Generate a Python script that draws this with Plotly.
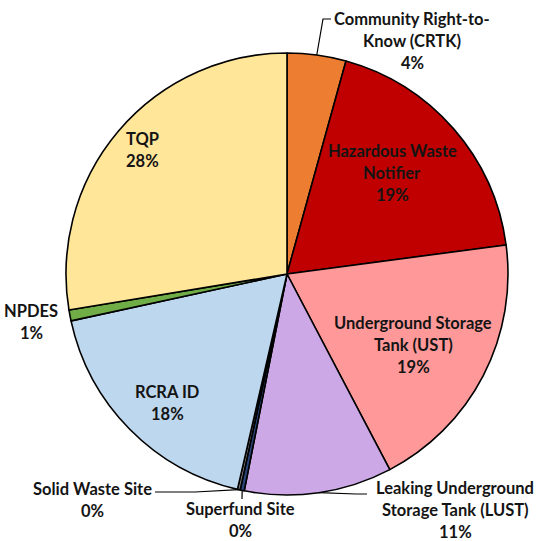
import math
import plotly.graph_objects as go

# Share of facility records by program (clockwise from 12 o'clock)
programs = [
    "Community Right-to-Know (CRTK)",
    "Hazardous Waste Notifier",
    "Underground Storage Tank (UST)",
    "Leaking Underground Storage Tank (LUST)",
    "Superfund Site",
    "Solid Waste Site",
    "RCRA ID",
    "NPDES",
    "TQP",
]
shares = [4.3, 18.6, 19.4, 10.8, 0.3, 0.2, 18.0, 0.8, 27.6]
slice_colors = [
    "#ED7D31", "#C00000", "#FF9999", "#CCA9E6",
    "#264478", "#7F7F7F", "#BDD7EE", "#70AD47", "#FFE699",
]
# Label text broken into display lines
label_lines = [
    ["Community Right-to-", "Know (CRTK)"],
    ["Hazardous Waste", "Notifier"],
    ["Underground Storage", "Tank (UST)"],
    ["Leaking Underground", "Storage Tank (LUST)"],
    ["Superfund Site"],
    ["Solid Waste Site"],
    ["RCRA ID"],
    ["NPDES"],
    ["TQP"],
]

W, H = 540, 541
CX, CY, R = 287, 274, 221  # pie centre and radius in pixels

# Top-centre pixel position of each label block
label_pos = [
    (412, 19), (392, 151), (413, 323), (455, 488),
    (240, 509), (92, 489), (167, 392), (31, 311), (142, 139),
]
LINE_GAP = 22
TEXT_COLOR = "#141414"
FONT = "Lato"
FONT_SIZE = 16.5

fig = go.Figure(
    go.Pie(
        labels=programs,
        values=shares,
        sort=False,
        direction="clockwise",
        rotation=0,
        marker=dict(colors=slice_colors, line=dict(color="#000000", width=1.6)),
        textinfo="none",
        hoverinfo="label+percent",
        domain=dict(
            x=[(CX - R) / W, (CX + R) / W],
            y=[(H - CY - R) / H, (H - CY + R) / H],
        ),
        showlegend=False,
    )
)


def px(x, y):
    return x / W, 1 - y / H


total = sum(shares)
annotations = []
for lines, share, (lx, ly) in zip(label_lines, shares, label_pos):
    pct = f"{round(share / total * 100):.0f}%"
    for i, txt in enumerate(lines + [pct]):
        ax, ay = px(lx, ly + i * LINE_GAP)
        annotations.append(dict(
            x=ax, y=ay, xref="paper", yref="paper",
            text=f"<b>{txt}</b>", showarrow=False,
            xanchor="center", yanchor="middle", borderpad=0,
            font=dict(family=FONT, size=FONT_SIZE, color=TEXT_COLOR),
        ))


# Outer-edge point at the middle of a slice
def slice_edge(idx):
    start = sum(shares[:idx]) / total
    mid = (start + shares[idx] / total / 2) * 2 * math.pi
    return CX + R * math.sin(mid), CY - R * math.cos(mid)


def leader(points):
    pts = [px(x, y) for x, y in points]
    path = "M " + " L ".join(f"{x},{y}" for x, y in pts)
    return dict(type="path", xref="paper", yref="paper", path=path,
                line=dict(color="#000000", width=1.2))


idx = {name: i for i, name in enumerate(programs)}
shapes = [
    leader([slice_edge(idx["Community Right-to-Know (CRTK)"]), (323, 19), (331, 19)]),
    leader([slice_edge(idx["Leaking Underground Storage Tank (LUST)"]), (356, 494), (367, 494)]),
    leader([slice_edge(idx["Superfund Site"]), (242, 499)]),
    leader([slice_edge(idx["Solid Waste Site"]), (195, 492), (155, 492)]),
]

fig.update_layout(
    width=W, height=H,
    margin=dict(l=0, r=0, t=0, b=0),
    paper_bgcolor="white",
    plot_bgcolor="white",
    annotations=annotations,
    shapes=shapes,
)

fig.write_html("out.html")
